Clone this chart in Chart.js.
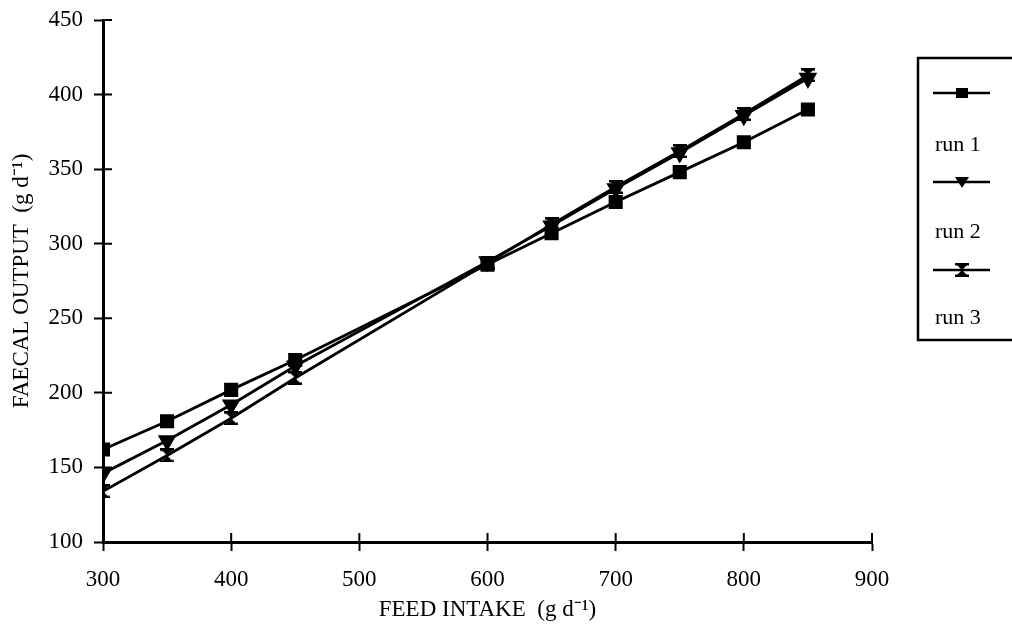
<!DOCTYPE html>
<html>
<head>
<meta charset="utf-8">
<script src="https://cdn.jsdelivr.net/npm/chart.js"></script>
<style>
  body { margin: 0; background: #fff; }
  canvas { display: block; }
</style>
</head>
<body>
<canvas id="faecal" width="1012" height="636"></canvas>
<script>
// feed intake (g/d) where the runs were measured
const feedIntake = [300, 350, 400, 450, 600, 650, 700, 750, 800, 850];
// faecal output (g/d)
const run1 = [162, 181, 202, 222, 286, 307, 328, 348, 368, 390];
const run2 = [146, 168, 192, 218, 288, 312, 337, 361, 386, 411];
const run3 = [134, 158, 183, 210, 287, 313, 338, 362, 387, 413];
const runLabels = ['run 1', 'run 2', 'run 3'];

const serif = 'Liberation Serif';

// hourglass marker for run 3
const hourglass = document.createElement('canvas');
hourglass.width = 14;
hourglass.height = 14;
(() => {
  const c = hourglass.getContext('2d');
  c.fillStyle = '#000';
  c.beginPath();
  c.moveTo(1, 1); c.lineTo(13, 1); c.lineTo(7, 7);
  c.lineTo(13, 13); c.lineTo(1, 13); c.lineTo(7, 7);
  c.closePath();
  c.fill();
  c.fillRect(0, 0, 14, 2.5);
  c.fillRect(0, 11.5, 14, 2.5);
})();

const toPoints = (ys) => feedIntake.map((x, i) => ({x: x, y: ys[i]}));

const lineStyle = {
  borderColor: '#000',
  backgroundColor: '#000',
  borderWidth: 2.8,
  tension: 0,
};

// tick marks that cross the axis line, inner half
const innerTicks = {
  id: 'innerTicks',
  afterDraw: (chart) => {
    const {ctx, scales} = chart;
    const {x, y} = scales;
    ctx.save();
    ctx.strokeStyle = '#000';
    ctx.lineWidth = 2;
    ctx.beginPath();
    x.ticks.forEach(t => {
      const px = x.getPixelForValue(t.value);
      ctx.moveTo(px, x.top);
      ctx.lineTo(px, x.top - 9);
    });
    y.ticks.forEach(t => {
      const py = y.getPixelForValue(t.value);
      ctx.moveTo(y.right, py);
      ctx.lineTo(y.right + 9, py);
    });
    ctx.stroke();
    ctx.restore();
  }
};

// boxed legend: sample line on top, label below
const boxLegend = {
  id: 'boxLegend',
  afterDraw: (chart) => {
    const {ctx} = chart;
    const box = {left: 918, top: 58, right: 1030, bottom: 340};
    const rows = [93, 182, 270];
    const labelsY = [145, 232, 318];
    ctx.save();
    ctx.strokeStyle = '#000';
    ctx.lineWidth = 2.5;
    ctx.strokeRect(box.left, box.top, box.right - box.left, box.bottom - box.top);
    chart.data.datasets.forEach((ds, i) => {
      const yy = rows[i];
      ctx.lineWidth = 2.5;
      ctx.beginPath();
      ctx.moveTo(933, yy);
      ctx.lineTo(990, yy);
      ctx.stroke();
      ctx.fillStyle = '#000';
      if (ds.pointStyle === 'rect') {
        ctx.fillRect(956, yy - 5, 12, 10);
      } else if (ds.pointStyle === 'triangle') {
        ctx.beginPath();
        ctx.moveTo(955, yy - 5);
        ctx.lineTo(969, yy - 5);
        ctx.lineTo(962, yy + 6);
        ctx.closePath();
        ctx.fill();
      } else {
        ctx.drawImage(hourglass, 955, yy - 7);
      }
      ctx.font = '22px "' + serif + '"';
      ctx.textBaseline = 'middle';
      ctx.textAlign = 'left';
      ctx.fillText(ds.label, 935, labelsY[i]);
    });
    ctx.restore();
  }
};

const axisGrid = {
  color: '#000',
  drawOnChartArea: false,
  tickLength: 9,
  tickWidth: 2,
};

new Chart(document.getElementById('faecal').getContext('2d'), {
  type: 'line',
  data: {
    datasets: [
      {label: runLabels[0], data: toPoints(run1), ...lineStyle, pointStyle: 'rect', pointRadius: 8},
      {label: runLabels[1], data: toPoints(run2), ...lineStyle, pointStyle: 'triangle', rotation: 180, pointRadius: 8},
      {label: runLabels[2], data: toPoints(run3), ...lineStyle, pointStyle: hourglass},
    ]
  },
  options: {
    responsive: false,
    animation: false,
    layout: {padding: {left: 0, top: 20, right: 140, bottom: 0}},
    plugins: {
      legend: {display: false},
      tooltip: {enabled: false},
    },
    scales: {
      x: {
        type: 'linear',
        min: 300,
        max: 900,
        grid: axisGrid,
        border: {color: '#000', width: 3},
        ticks: {stepSize: 100, color: '#000', padding: 15, font: {family: serif, size: 23}},
        title: {
          display: true,
          text: 'FEED INTAKE  (g d\u207B\u00B9)',
          color: '#000',
          font: {family: serif, size: 23},
          padding: {top: 0, bottom: 12},
        },
        afterFit: (scale) => { scale.height = 94; },
      },
      y: {
        type: 'linear',
        min: 100,
        max: 450,
        grid: axisGrid,
        border: {color: '#000', width: 3},
        ticks: {stepSize: 50, color: '#000', padding: 11, font: {family: serif, size: 23}},
        title: {
          display: true,
          text: 'FAECAL OUTPUT  (g d\u207B\u00B9)',
          color: '#000',
          font: {family: serif, size: 23},
          padding: {top: 8, bottom: 0},
        },
        afterFit: (scale) => {
          scale.width = 103;
          scale.paddingTop = 0;
          scale.paddingBottom = 0;
        },
      },
    },
  },
  plugins: [innerTicks, boxLegend]
});
</script>
</body>
</html>
